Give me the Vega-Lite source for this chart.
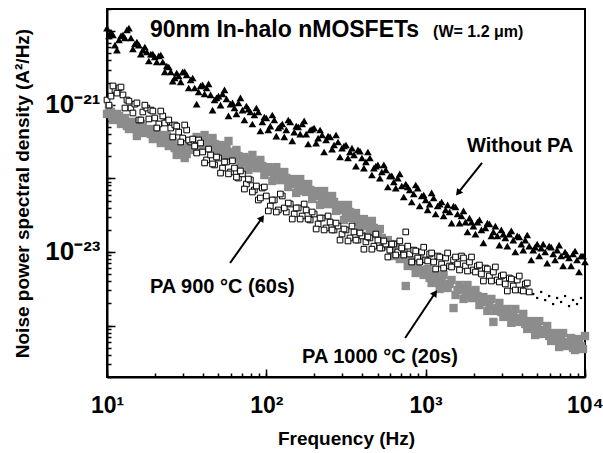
{
  "$schema": "https://vega.github.io/schema/vega-lite/v6.json",
  "width": 478,
  "height": 368,
  "autosize": "none",
  "padding": {"left": 107, "top": 9, "right": 18, "bottom": 76},
  "background": "white",
  "config": {
    "view": {"stroke": "black", "strokeWidth": 2},
    "font": "Liberation Sans",
    "axis": {"grid": false}
  },
  "datasets": {
    "spec": [
      {"s":"A","f":10,"p":1.10e-20},{"s":"A","f":10.59,"p":9.74e-21},{"s":"A","f":11.22,"p":6.48e-21},{"s":"A","f":11.89,"p":7.58e-21},{"s":"A","f":12.59,"p":8.87e-21},{"s":"A","f":13.34,"p":1.04e-20},{"s":"A","f":14.13,"p":8.07e-21},{"s":"A","f":14.96,"p":6.69e-21},{"s":"A","f":15.85,"p":6.48e-21},{"s":"A","f":16.79,"p":5.54e-21},
      {"s":"A","f":17.78,"p":5.21e-21},{"s":"A","f":18.84,"p":4.89e-21},{"s":"A","f":19.95,"p":4.46e-21},{"s":"A","f":21.13,"p":4.60e-21},{"s":"A","f":22.39,"p":3.81e-21},{"s":"A","f":23.71,"p":3.36e-21},{"s":"A","f":25.12,"p":2.79e-21},{"s":"A","f":26.61,"p":2.31e-21},{"s":"A","f":28.18,"p":2.46e-21},{"s":"A","f":29.85,"p":2.79e-21},
      {"s":"A","f":31.62,"p":2.54e-21},{"s":"A","f":33.5,"p":2.17e-21},{"s":"A","f":35.48,"p":1.69e-21},{"s":"A","f":37.58,"p":1.49e-21},{"s":"A","f":39.81,"p":1.86e-21},{"s":"A","f":42.17,"p":1.69e-21},{"s":"A","f":44.67,"p":1.36e-21},{"s":"A","f":47.32,"p":1.16e-21},{"s":"A","f":50.12,"p":1.31e-21},{"s":"A","f":53.09,"p":1.40e-21},
      {"s":"A","f":56.23,"p":1.20e-21},{"s":"A","f":59.57,"p":1.02e-21},{"s":"A","f":63.1,"p":9.03e-22},{"s":"A","f":66.83,"p":1.06e-21},{"s":"A","f":70.79,"p":8.48e-22},{"s":"A","f":74.99,"p":9.62e-22},{"s":"A","f":79.43,"p":7.97e-22},{"s":"A","f":84.14,"p":7.26e-22},{"s":"A","f":89.13,"p":7.97e-22},{"s":"A","f":94.41,"p":5.83e-22},
      {"s":"A","f":100,"p":6.61e-22},{"s":"A","f":105.9,"p":5.14e-22},{"s":"A","f":112.2,"p":6.21e-22},{"s":"A","f":118.9,"p":4.83e-22},{"s":"A","f":125.9,"p":5.48e-22},{"s":"A","f":133.4,"p":4.54e-22},{"s":"A","f":141.3,"p":5.83e-22},{"s":"A","f":149.6,"p":4.26e-22},{"s":"A","f":158.5,"p":4.99e-22},{"s":"A","f":167.9,"p":5.48e-22},
      {"s":"A","f":177.8,"p":4.00e-22},{"s":"A","f":188.4,"p":4.54e-22},{"s":"A","f":199.5,"p":4.83e-22},{"s":"A","f":211.3,"p":3.53e-22},{"s":"A","f":223.9,"p":3.88e-22},{"s":"A","f":237.1,"p":3.32e-22},{"s":"A","f":251.2,"p":3.65e-22},{"s":"A","f":266.1,"p":2.84e-22},{"s":"A","f":281.8,"p":3.12e-22},{"s":"A","f":298.5,"p":2.58e-22},
      {"s":"A","f":316.2,"p":2.84e-22},{"s":"A","f":335,"p":2.28e-22},{"s":"A","f":354.8,"p":2.08e-22},{"s":"A","f":375.8,"p":2.43e-22},{"s":"A","f":398.1,"p":1.89e-22},{"s":"A","f":421.7,"p":1.67e-22},{"s":"A","f":446.7,"p":1.89e-22},{"s":"A","f":473.2,"p":1.38e-22},{"s":"A","f":501.2,"p":1.52e-22},{"s":"A","f":530.9,"p":1.22e-22},
      {"s":"A","f":562.3,"p":1.30e-22},{"s":"A","f":595.7,"p":1.08e-22},{"s":"A","f":631,"p":8.92e-23},{"s":"A","f":668.3,"p":1.01e-22},{"s":"A","f":707.9,"p":7.87e-23},{"s":"A","f":749.9,"p":8.38e-23},{"s":"A","f":794.3,"p":6.95e-23},{"s":"A","f":841.4,"p":6.13e-23},{"s":"A","f":891.3,"p":7.39e-23},{"s":"A","f":944.1,"p":5.76e-23},
      {"s":"A","f":1000,"p":5.08e-23},{"s":"A","f":1059,"p":4.48e-23},{"s":"A","f":1122,"p":5.41e-23},{"s":"A","f":1189,"p":4.21e-23},{"s":"A","f":1259,"p":4.77e-23},{"s":"A","f":1334,"p":3.72e-23},{"s":"A","f":1413,"p":3.49e-23},{"s":"A","f":1496,"p":4.21e-23},{"s":"A","f":1585,"p":3.28e-23},{"s":"A","f":1679,"p":3.08e-23},
      {"s":"A","f":1778,"p":2.55e-23},{"s":"A","f":1884,"p":2.89e-23},{"s":"A","f":1995,"p":2.25e-23},{"s":"A","f":2113,"p":2.55e-23},{"s":"A","f":2239,"p":1.99e-23},{"s":"A","f":2371,"p":2.12e-23},{"s":"A","f":2512,"p":2.40e-23},{"s":"A","f":2661,"p":1.87e-23},{"s":"A","f":2818,"p":1.65e-23},{"s":"A","f":2985,"p":1.99e-23},
      {"s":"A","f":3162,"p":1.55e-23},{"s":"A","f":3350,"p":1.75e-23},{"s":"A","f":3548,"p":1.45e-23},{"s":"A","f":3758,"p":1.65e-23},{"s":"A","f":3981,"p":1.28e-23},{"s":"A","f":4217,"p":1.45e-23},{"s":"A","f":4467,"p":1.20e-23},{"s":"A","f":4732,"p":1.06e-23},{"s":"A","f":5012,"p":1.28e-23},{"s":"A","f":5309,"p":1.13e-23},
      {"s":"A","f":5623,"p":9.99e-24},{"s":"A","f":5957,"p":1.20e-23},{"s":"A","f":6310,"p":9.38e-24},{"s":"A","f":6683,"p":1.06e-23},{"s":"A","f":7079,"p":8.81e-24},{"s":"A","f":7499,"p":9.99e-24},{"s":"A","f":7943,"p":8.28e-24},{"s":"A","f":8414,"p":9.38e-24},{"s":"A","f":8913,"p":7.78e-24},{"s":"A","f":9441,"p":8.81e-24},
      {"s":"A","f":10000,"p":7.30e-24},

      {"s":"A","f":10.29,"p":8.60e-21},{"s":"A","f":10.90,"p":8.87e-21},{"s":"A","f":11.55,"p":5.54e-21},{"s":"A","f":12.24,"p":8.60e-21},{"s":"A","f":12.96,"p":8.07e-21},{"s":"A","f":13.73,"p":1.10e-20},{"s":"A","f":14.54,"p":5.72e-21},{"s":"A","f":15.40,"p":7.12e-21},{"s":"A","f":16.31,"p":4.89e-21},{"s":"A","f":17.28,"p":6.09e-21},
      {"s":"A","f":18.30,"p":3.93e-21},{"s":"A","f":19.39,"p":4.89e-21},{"s":"A","f":20.54,"p":3.81e-21},{"s":"A","f":21.75,"p":4.74e-21},{"s":"A","f":23.04,"p":2.79e-21},{"s":"A","f":24.41,"p":3.26e-21},{"s":"A","f":25.85,"p":2.10e-21},{"s":"A","f":27.39,"p":2.70e-21},{"s":"A","f":29.01,"p":2.04e-21},{"s":"A","f":30.73,"p":2.79e-21},
      {"s":"A","f":32.55,"p":1.69e-21},{"s":"A","f":34.48,"p":2.31e-21},{"s":"A","f":36.52,"p":1.02e-21},{"s":"A","f":38.68,"p":1.80e-21},{"s":"A","f":40.97,"p":1.40e-21},{"s":"A","f":43.40,"p":1.92e-21},{"s":"A","f":45.97,"p":8.48e-22},{"s":"A","f":48.70,"p":1.24e-21},{"s":"A","f":51.58,"p":9.88e-22},{"s":"A","f":54.64,"p":1.59e-21},
      {"s":"A","f":57.88,"p":7.04e-22},{"s":"A","f":61.31,"p":1.06e-21},{"s":"A","f":64.94,"p":7.50e-22},{"s":"A","f":68.79,"p":1.24e-21},{"s":"A","f":72.86,"p":6.21e-22},{"s":"A","f":77.18,"p":8.75e-22},{"s":"A","f":81.75,"p":5.48e-22},{"s":"A","f":86.60,"p":9.03e-22},{"s":"A","f":91.73,"p":4.40e-22},{"s":"A","f":97.16,"p":6.82e-22},
      {"s":"A","f":102.9,"p":4.54e-22},{"s":"A","f":109.0,"p":7.26e-22},{"s":"A","f":115.5,"p":3.76e-22},{"s":"A","f":122.4,"p":5.14e-22},{"s":"A","f":129.6,"p":3.65e-22},{"s":"A","f":137.3,"p":6.21e-22},{"s":"A","f":145.4,"p":3.22e-22},{"s":"A","f":154.0,"p":5.14e-22},{"s":"A","f":163.1,"p":4.00e-22},{"s":"A","f":172.8,"p":6.02e-22},
      {"s":"A","f":183.0,"p":2.93e-22},{"s":"A","f":193.9,"p":4.68e-22},{"s":"A","f":205.4,"p":3.02e-22},{"s":"A","f":217.5,"p":4.54e-22},{"s":"A","f":230.4,"p":2.28e-22},{"s":"A","f":244.1,"p":3.76e-22},{"s":"A","f":258.5,"p":2.50e-22},{"s":"A","f":273.9,"p":3.88e-22},{"s":"A","f":290.1,"p":1.95e-22},{"s":"A","f":307.3,"p":2.75e-22},
      {"s":"A","f":325.5,"p":1.89e-22},{"s":"A","f":344.8,"p":2.58e-22},{"s":"A","f":365.2,"p":1.47e-22},{"s":"A","f":386.8,"p":2.35e-22},{"s":"A","f":409.7,"p":1.38e-22},{"s":"A","f":434.0,"p":2.28e-22},{"s":"A","f":459.7,"p":1.11e-22},{"s":"A","f":486.9,"p":1.47e-22},{"s":"A","f":515.8,"p":1.01e-22},{"s":"A","f":546.4,"p":1.52e-22},
      {"s":"A","f":578.8,"p":7.63e-23},{"s":"A","f":613.1,"p":1.08e-22},{"s":"A","f":649.4,"p":7.39e-23},{"s":"A","f":687.9,"p":1.15e-22},{"s":"A","f":728.6,"p":5.58e-23},{"s":"A","f":771.8,"p":7.63e-23},{"s":"A","f":817.5,"p":4.77e-23},{"s":"A","f":865.9,"p":8.12e-23},{"s":"A","f":917.3,"p":4.21e-23},{"s":"A","f":971.6,"p":5.94e-23},
      {"s":"A","f":1029,"p":3.72e-23},{"s":"A","f":1090,"p":6.33e-23},{"s":"A","f":1155,"p":3.28e-23},{"s":"A","f":1224,"p":4.48e-23},{"s":"A","f":1296,"p":3.08e-23},{"s":"A","f":1373,"p":4.35e-23},{"s":"A","f":1454,"p":2.47e-23},{"s":"A","f":1540,"p":4.08e-23},{"s":"A","f":1631,"p":2.47e-23},{"s":"A","f":1728,"p":3.61e-23},
      {"s":"A","f":1830,"p":1.87e-23},{"s":"A","f":1939,"p":2.55e-23},{"s":"A","f":2054,"p":1.75e-23},{"s":"A","f":2175,"p":2.72e-23},{"s":"A","f":2304,"p":1.33e-23},{"s":"A","f":2441,"p":2.47e-23},{"s":"A","f":2585,"p":1.65e-23},{"s":"A","f":2739,"p":2.25e-23},{"s":"A","f":2901,"p":1.24e-23},{"s":"A","f":3073,"p":1.75e-23},
      {"s":"A","f":3255,"p":1.20e-23},{"s":"A","f":3448,"p":1.93e-23},{"s":"A","f":3652,"p":9.99e-24},{"s":"A","f":3868,"p":1.60e-23},{"s":"A","f":4097,"p":1.06e-23},{"s":"A","f":4340,"p":1.70e-23},{"s":"A","f":4597,"p":7.78e-24},{"s":"A","f":4869,"p":1.16e-23},{"s":"A","f":5158,"p":8.81e-24},{"s":"A","f":5464,"p":1.28e-23},
      {"s":"A","f":5788,"p":7.07e-24},{"s":"A","f":6131,"p":1.16e-23},{"s":"A","f":6494,"p":7.78e-24},{"s":"A","f":6879,"p":1.24e-23},{"s":"A","f":7286,"p":6.45e-24},{"s":"A","f":7718,"p":9.09e-24},{"s":"A","f":8175,"p":6.45e-24},{"s":"A","f":8659,"p":1.03e-23},{"s":"A","f":9173,"p":5.34e-24},{"s":"A","f":9716,"p":8.81e-24},

      {"s":"B","f":10,"p":1.16e-21},{"s":"B","f":10.59,"p":1.31e-21},{"s":"B","f":11.22,"p":1.59e-21},{"s":"B","f":11.89,"p":1.69e-21},{"s":"B","f":12.59,"p":1.36e-21},{"s":"B","f":13.34,"p":1.16e-21},{"s":"B","f":14.13,"p":9.03e-22},{"s":"B","f":14.96,"p":1.02e-21},{"s":"B","f":15.85,"p":6.21e-22},{"s":"B","f":16.79,"p":7.97e-22},
      {"s":"B","f":17.78,"p":9.03e-22},{"s":"B","f":18.84,"p":8.48e-22},{"s":"B","f":19.95,"p":6.61e-22},{"s":"B","f":21.13,"p":5.48e-22},{"s":"B","f":22.39,"p":7.04e-22},{"s":"B","f":23.71,"p":5.83e-22},{"s":"B","f":25.12,"p":4.83e-22},{"s":"B","f":26.61,"p":5.31e-22},{"s":"B","f":28.18,"p":4.26e-22},{"s":"B","f":29.85,"p":3.53e-22},
      {"s":"B","f":31.62,"p":4.54e-22},{"s":"B","f":33.5,"p":3.12e-22},{"s":"B","f":35.48,"p":2.75e-22},{"s":"B","f":37.58,"p":3.32e-22},{"s":"B","f":39.81,"p":2.28e-22},{"s":"B","f":42.17,"p":1.78e-22},{"s":"B","f":44.67,"p":2.08e-22},{"s":"B","f":47.32,"p":1.52e-22},{"s":"B","f":50.12,"p":1.89e-22},{"s":"B","f":53.09,"p":1.38e-22},
      {"s":"B","f":56.23,"p":1.67e-22},{"s":"B","f":59.57,"p":1.22e-22},{"s":"B","f":63.1,"p":1.38e-22},{"s":"B","f":66.83,"p":1.01e-22},{"s":"B","f":70.79,"p":1.15e-22},{"s":"B","f":74.99,"p":8.38e-23},{"s":"B","f":79.43,"p":9.50e-23},{"s":"B","f":84.14,"p":6.95e-23},{"s":"B","f":89.13,"p":5.08e-23},{"s":"B","f":94.41,"p":7.39e-23},
      {"s":"B","f":100,"p":5.76e-23},{"s":"B","f":105.9,"p":4.21e-23},{"s":"B","f":112.2,"p":5.08e-23},{"s":"B","f":118.9,"p":3.72e-23},{"s":"B","f":125.9,"p":5.76e-23},{"s":"B","f":133.4,"p":3.49e-23},{"s":"B","f":141.3,"p":4.48e-23},{"s":"B","f":149.6,"p":3.28e-23},{"s":"B","f":158.5,"p":3.96e-23},{"s":"B","f":167.9,"p":3.08e-23},
      {"s":"B","f":177.8,"p":3.72e-23},{"s":"B","f":188.4,"p":2.72e-23},{"s":"B","f":199.5,"p":3.28e-23},{"s":"B","f":211.3,"p":2.40e-23},{"s":"B","f":223.9,"p":2.89e-23},{"s":"B","f":237.1,"p":2.12e-23},{"s":"B","f":251.2,"p":2.55e-23},{"s":"B","f":266.1,"p":1.99e-23},{"s":"B","f":281.8,"p":2.25e-23},{"s":"B","f":298.5,"p":1.75e-23},
      {"s":"B","f":316.2,"p":1.99e-23},{"s":"B","f":335,"p":1.55e-23},{"s":"B","f":354.8,"p":1.87e-23},{"s":"B","f":375.8,"p":1.45e-23},{"s":"B","f":398.1,"p":1.65e-23},{"s":"B","f":421.7,"p":1.37e-23},{"s":"B","f":446.7,"p":1.55e-23},{"s":"B","f":473.2,"p":1.20e-23},{"s":"B","f":501.2,"p":1.45e-23},{"s":"B","f":530.9,"p":1.13e-23},
      {"s":"B","f":562.3,"p":1.28e-23},{"s":"B","f":595.7,"p":1.06e-23},{"s":"B","f":631,"p":1.28e-23},{"s":"B","f":668.3,"p":9.99e-24},{"s":"B","f":707.9,"p":1.13e-23},{"s":"B","f":749.9,"p":1.87e-23},{"s":"B","f":794.3,"p":9.38e-24},{"s":"B","f":841.4,"p":1.06e-23},{"s":"B","f":891.3,"p":8.28e-24},{"s":"B","f":944.1,"p":9.99e-24},
      {"s":"B","f":1000,"p":7.78e-24},{"s":"B","f":1059,"p":9.38e-24},{"s":"B","f":1122,"p":7.30e-24},{"s":"B","f":1189,"p":8.81e-24},{"s":"B","f":1259,"p":6.86e-24},{"s":"B","f":1334,"p":8.28e-24},{"s":"B","f":1413,"p":6.45e-24},{"s":"B","f":1496,"p":7.78e-24},{"s":"B","f":1585,"p":6.86e-24},{"s":"B","f":1679,"p":8.81e-24},
      {"s":"B","f":1778,"p":6.45e-24},{"s":"B","f":1884,"p":7.30e-24},{"s":"B","f":1995,"p":5.69e-24},{"s":"B","f":2113,"p":6.45e-24},{"s":"B","f":2239,"p":5.02e-24},{"s":"B","f":2371,"p":6.05e-24},{"s":"B","f":2512,"p":4.71e-24},{"s":"B","f":2661,"p":5.34e-24},{"s":"B","f":2818,"p":4.16e-24},{"s":"B","f":2985,"p":4.71e-24},
      {"s":"B","f":3162,"p":3.67e-24},{"s":"B","f":3350,"p":4.43e-24},{"s":"B","f":3548,"p":3.45e-24},{"s":"B","f":3758,"p":4.16e-24},{"s":"B","f":3981,"p":3.04e-24},{"s":"B","f":4217,"p":3.67e-24},{"s":"B","f":4467,"p":2.86e-24},

      {"s":"B","f":10.29,"p":9.88e-22},{"s":"B","f":10.90,"p":1.80e-21},{"s":"B","f":11.55,"p":1.44e-21},{"s":"B","f":12.24,"p":1.74e-21},{"s":"B","f":12.96,"p":9.03e-22},{"s":"B","f":13.73,"p":1.12e-21},{"s":"B","f":14.54,"p":7.72e-22},{"s":"B","f":15.40,"p":1.06e-21},{"s":"B","f":16.31,"p":6.21e-22},{"s":"B","f":17.28,"p":9.88e-22},
      {"s":"B","f":18.30,"p":6.41e-22},{"s":"B","f":19.39,"p":8.22e-22},{"s":"B","f":20.54,"p":4.83e-22},{"s":"B","f":21.75,"p":8.22e-22},{"s":"B","f":23.04,"p":5.65e-22},{"s":"B","f":24.41,"p":6.21e-22},{"s":"B","f":25.85,"p":3.65e-22},{"s":"B","f":27.39,"p":5.14e-22},{"s":"B","f":29.01,"p":3.12e-22},{"s":"B","f":30.73,"p":5.31e-22},
      {"s":"B","f":32.55,"p":3.32e-22},{"s":"B","f":34.48,"p":3.42e-22},{"s":"B","f":36.52,"p":2.21e-22},{"s":"B","f":38.68,"p":3.02e-22},{"s":"B","f":40.97,"p":1.62e-22},{"s":"B","f":43.40,"p":2.50e-22},{"s":"B","f":45.97,"p":1.57e-22},{"s":"B","f":48.70,"p":1.95e-22},{"s":"B","f":51.58,"p":1.18e-22},{"s":"B","f":54.64,"p":1.67e-22},
      {"s":"B","f":57.88,"p":1.15e-22},{"s":"B","f":61.31,"p":1.73e-22},{"s":"B","f":64.94,"p":1.04e-22},{"s":"B","f":68.79,"p":1.26e-22},{"s":"B","f":72.86,"p":7.16e-23},{"s":"B","f":77.18,"p":9.79e-23},{"s":"B","f":81.75,"p":6.53e-23},{"s":"B","f":86.60,"p":7.87e-23},{"s":"B","f":91.73,"p":5.41e-23},{"s":"B","f":97.16,"p":7.63e-23},
      {"s":"B","f":102.9,"p":3.61e-23},{"s":"B","f":109.0,"p":5.08e-23},{"s":"B","f":115.5,"p":3.49e-23},{"s":"B","f":122.4,"p":6.13e-23},{"s":"B","f":129.6,"p":3.96e-23},{"s":"B","f":137.3,"p":4.62e-23},{"s":"B","f":145.4,"p":2.80e-23},{"s":"B","f":154.0,"p":3.96e-23},{"s":"B","f":163.1,"p":2.80e-23},{"s":"B","f":172.8,"p":4.48e-23},
      {"s":"B","f":183.0,"p":2.80e-23},{"s":"B","f":193.9,"p":3.49e-23},{"s":"B","f":205.4,"p":2.05e-23},{"s":"B","f":217.5,"p":2.89e-23},{"s":"B","f":230.4,"p":1.99e-23},{"s":"B","f":244.1,"p":3.08e-23},{"s":"B","f":258.5,"p":1.99e-23},{"s":"B","f":273.9,"p":2.47e-23},{"s":"B","f":290.1,"p":1.45e-23},{"s":"B","f":307.3,"p":2.05e-23},
      {"s":"B","f":325.5,"p":1.41e-23},{"s":"B","f":344.8,"p":2.25e-23},{"s":"B","f":365.2,"p":1.45e-23},{"s":"B","f":386.8,"p":1.81e-23},{"s":"B","f":409.7,"p":1.09e-23},{"s":"B","f":434.0,"p":1.60e-23},{"s":"B","f":459.7,"p":1.09e-23},{"s":"B","f":486.9,"p":1.75e-23},{"s":"B","f":515.8,"p":1.13e-23},{"s":"B","f":546.4,"p":1.41e-23},
      {"s":"B","f":578.8,"p":8.54e-24},{"s":"B","f":613.1,"p":1.28e-23},{"s":"B","f":649.4,"p":9.09e-24},{"s":"B","f":687.9,"p":1.41e-23},{"s":"B","f":728.6,"p":9.09e-24},{"s":"B","f":771.8,"p":1.20e-23},{"s":"B","f":817.5,"p":7.30e-24},{"s":"B","f":865.9,"p":1.03e-23},{"s":"B","f":917.3,"p":7.30e-24},{"s":"B","f":971.6,"p":1.16e-23},
      {"s":"B","f":1029,"p":7.54e-24},{"s":"B","f":1090,"p":9.68e-24},{"s":"B","f":1155,"p":5.87e-24},{"s":"B","f":1224,"p":8.54e-24},{"s":"B","f":1296,"p":6.05e-24},{"s":"B","f":1373,"p":9.68e-24},{"s":"B","f":1454,"p":6.25e-24},{"s":"B","f":1540,"p":8.54e-24},{"s":"B","f":1631,"p":5.69e-24},{"s":"B","f":1728,"p":8.28e-24},
      {"s":"B","f":1830,"p":5.51e-24},{"s":"B","f":1939,"p":8.54e-24},{"s":"B","f":2054,"p":5.34e-24},{"s":"B","f":2175,"p":6.65e-24},{"s":"B","f":2304,"p":4.03e-24},{"s":"B","f":2441,"p":5.87e-24},{"s":"B","f":2585,"p":4.03e-24},{"s":"B","f":2739,"p":6.25e-24},{"s":"B","f":2901,"p":3.91e-24},{"s":"B","f":3073,"p":4.87e-24},
      {"s":"B","f":3255,"p":2.95e-24},{"s":"B","f":3448,"p":4.29e-24},{"s":"B","f":3652,"p":3.04e-24},{"s":"B","f":3868,"p":4.71e-24},{"s":"B","f":4097,"p":2.95e-24},{"s":"B","f":4340,"p":3.79e-24},

      {"s":"D","f":4732,"p":2.68e-24},{"s":"D","f":5012,"p":2.37e-24},{"s":"D","f":5309,"p":2.86e-24},{"s":"D","f":5623,"p":2.22e-24},{"s":"D","f":5957,"p":2.52e-24},{"s":"D","f":6310,"p":1.96e-24},{"s":"D","f":6683,"p":2.37e-24},{"s":"D","f":7079,"p":2.09e-24},{"s":"D","f":7499,"p":2.52e-24},{"s":"D","f":7943,"p":1.84e-24},{"s":"D","f":8414,"p":2.22e-24},{"s":"D","f":8913,"p":1.96e-24},{"s":"D","f":9441,"p":2.37e-24},

      {"s":"C","f":10,"p":7.50e-22},{"s":"C","f":10.59,"p":7.97e-22},{"s":"C","f":11.22,"p":6.61e-22},{"s":"C","f":11.89,"p":7.04e-22},{"s":"C","f":12.59,"p":6.21e-22},{"s":"C","f":13.34,"p":5.14e-22},{"s":"C","f":14.13,"p":5.83e-22},{"s":"C","f":14.96,"p":4.83e-22},{"s":"C","f":15.85,"p":4.26e-22},{"s":"C","f":16.79,"p":5.14e-22},
      {"s":"C","f":17.78,"p":4.54e-22},{"s":"C","f":18.84,"p":4.00e-22},{"s":"C","f":19.95,"p":4.26e-22},{"s":"C","f":21.13,"p":3.76e-22},{"s":"C","f":22.39,"p":3.32e-22},{"s":"C","f":23.71,"p":3.76e-22},{"s":"C","f":25.12,"p":2.93e-22},{"s":"C","f":26.61,"p":2.58e-22},{"s":"C","f":28.18,"p":2.28e-22},{"s":"C","f":29.85,"p":2.43e-22},
      {"s":"C","f":31.62,"p":2.14e-22},{"s":"C","f":33.5,"p":2.75e-22},{"s":"C","f":35.48,"p":3.12e-22},{"s":"C","f":37.58,"p":3.32e-22},{"s":"C","f":39.81,"p":2.93e-22},{"s":"C","f":42.17,"p":3.12e-22},{"s":"C","f":44.67,"p":2.75e-22},{"s":"C","f":47.32,"p":2.93e-22},{"s":"C","f":50.12,"p":2.58e-22},{"s":"C","f":53.09,"p":2.43e-22},
      {"s":"C","f":56.23,"p":2.75e-22},{"s":"C","f":59.57,"p":2.28e-22},{"s":"C","f":63.1,"p":1.89e-22},{"s":"C","f":66.83,"p":2.01e-22},{"s":"C","f":70.79,"p":1.67e-22},{"s":"C","f":74.99,"p":1.78e-22},{"s":"C","f":79.43,"p":1.57e-22},{"s":"C","f":84.14,"p":1.67e-22},{"s":"C","f":89.13,"p":1.38e-22},{"s":"C","f":94.41,"p":1.47e-22},
      {"s":"C","f":100,"p":1.22e-22},{"s":"C","f":105.9,"p":1.30e-22},{"s":"C","f":112.2,"p":1.08e-22},{"s":"C","f":118.9,"p":1.15e-22},{"s":"C","f":125.9,"p":9.50e-23},{"s":"C","f":133.4,"p":1.01e-22},{"s":"C","f":141.3,"p":8.38e-23},{"s":"C","f":149.6,"p":8.92e-23},{"s":"C","f":158.5,"p":7.39e-23},{"s":"C","f":167.9,"p":7.87e-23},
      {"s":"C","f":177.8,"p":6.53e-23},{"s":"C","f":188.4,"p":6.95e-23},{"s":"C","f":199.5,"p":5.76e-23},{"s":"C","f":211.3,"p":6.13e-23},{"s":"C","f":223.9,"p":5.08e-23},{"s":"C","f":237.1,"p":5.41e-23},{"s":"C","f":251.2,"p":4.48e-23},{"s":"C","f":266.1,"p":4.77e-23},{"s":"C","f":281.8,"p":3.96e-23},{"s":"C","f":298.5,"p":3.72e-23},
      {"s":"C","f":316.2,"p":3.28e-23},{"s":"C","f":335,"p":3.49e-23},{"s":"C","f":354.8,"p":2.89e-23},{"s":"C","f":375.8,"p":2.55e-23},{"s":"C","f":398.1,"p":2.72e-23},{"s":"C","f":421.7,"p":2.25e-23},{"s":"C","f":446.7,"p":1.99e-23},{"s":"C","f":473.2,"p":2.12e-23},{"s":"C","f":501.2,"p":1.75e-23},{"s":"C","f":530.9,"p":1.55e-23},
      {"s":"C","f":562.3,"p":1.37e-23},{"s":"C","f":595.7,"p":1.20e-23},{"s":"C","f":631,"p":1.06e-23},{"s":"C","f":668.3,"p":9.38e-24},{"s":"C","f":707.9,"p":8.28e-24},{"s":"C","f":749.9,"p":3.45e-24},{"s":"C","f":794.3,"p":7.30e-24},{"s":"C","f":841.4,"p":6.45e-24},{"s":"C","f":891.3,"p":6.86e-24},{"s":"C","f":944.1,"p":5.69e-24},
      {"s":"C","f":1000,"p":5.02e-24},{"s":"C","f":1059,"p":4.43e-24},{"s":"C","f":1122,"p":4.71e-24},{"s":"C","f":1189,"p":3.91e-24},{"s":"C","f":1259,"p":4.16e-24},{"s":"C","f":1334,"p":3.45e-24},{"s":"C","f":1413,"p":3.67e-24},{"s":"C","f":1496,"p":1.73e-24},{"s":"C","f":1585,"p":3.04e-24},{"s":"C","f":1679,"p":3.24e-24},
      {"s":"C","f":1778,"p":2.68e-24},{"s":"C","f":1884,"p":2.86e-24},{"s":"C","f":1995,"p":2.37e-24},{"s":"C","f":2113,"p":2.52e-24},{"s":"C","f":2239,"p":2.09e-24},{"s":"C","f":2371,"p":2.22e-24},{"s":"C","f":2512,"p":1.84e-24},{"s":"C","f":2661,"p":1.12e-24},{"s":"C","f":2818,"p":1.73e-24},{"s":"C","f":2985,"p":1.53e-24},
      {"s":"C","f":3162,"p":1.63e-24},{"s":"C","f":3350,"p":1.35e-24},{"s":"C","f":3548,"p":1.44e-24},{"s":"C","f":3758,"p":1.19e-24},{"s":"C","f":3981,"p":1.27e-24},{"s":"C","f":4217,"p":1.05e-24},{"s":"C","f":4467,"p":1.12e-24},{"s":"C","f":4732,"p":9.26e-25},{"s":"C","f":5012,"p":9.86e-25},{"s":"C","f":5309,"p":8.17e-25},
      {"s":"C","f":5623,"p":8.70e-25},{"s":"C","f":5957,"p":7.21e-25},{"s":"C","f":6310,"p":7.68e-25},{"s":"C","f":6683,"p":6.36e-25},{"s":"C","f":7079,"p":6.77e-25},{"s":"C","f":7499,"p":5.61e-25},{"s":"C","f":7943,"p":5.98e-25},{"s":"C","f":8414,"p":4.95e-25},{"s":"C","f":8913,"p":6.36e-25},{"s":"C","f":9441,"p":5.27e-25},
      {"s":"C","f":10000,"p":7.21e-25},

      {"s":"C","f":10.29,"p":9.03e-22},{"s":"C","f":10.90,"p":6.21e-22},{"s":"C","f":11.55,"p":7.50e-22},{"s":"C","f":12.24,"p":5.48e-22},{"s":"C","f":12.96,"p":6.61e-22},{"s":"C","f":13.73,"p":4.68e-22},{"s":"C","f":14.54,"p":5.83e-22},{"s":"C","f":15.40,"p":3.76e-22},{"s":"C","f":16.31,"p":5.48e-22},{"s":"C","f":17.28,"p":4.13e-22},
      {"s":"C","f":18.30,"p":4.68e-22},{"s":"C","f":19.39,"p":3.42e-22},{"s":"C","f":20.54,"p":4.68e-22},{"s":"C","f":21.75,"p":3.02e-22},{"s":"C","f":23.04,"p":3.88e-22},{"s":"C","f":24.41,"p":2.75e-22},{"s":"C","f":25.85,"p":3.22e-22},{"s":"C","f":27.39,"p":2.08e-22},{"s":"C","f":29.01,"p":2.58e-22},{"s":"C","f":30.73,"p":1.89e-22},
      {"s":"C","f":32.55,"p":3.02e-22},{"s":"C","f":34.48,"p":2.43e-22},{"s":"C","f":36.52,"p":3.65e-22},{"s":"C","f":38.68,"p":2.43e-22},{"s":"C","f":40.97,"p":3.88e-22},{"s":"C","f":43.40,"p":2.67e-22},{"s":"C","f":45.97,"p":3.53e-22},{"s":"C","f":48.70,"p":2.28e-22},{"s":"C","f":51.58,"p":2.84e-22},{"s":"C","f":54.64,"p":2.01e-22},
      {"s":"C","f":57.88,"p":3.22e-22},{"s":"C","f":61.31,"p":1.89e-22},{"s":"C","f":64.94,"p":2.43e-22},{"s":"C","f":68.79,"p":1.52e-22},{"s":"C","f":72.86,"p":1.95e-22},{"s":"C","f":77.18,"p":1.30e-22},{"s":"C","f":81.75,"p":2.08e-22},{"s":"C","f":86.60,"p":1.38e-22},{"s":"C","f":91.73,"p":1.78e-22},{"s":"C","f":97.16,"p":1.11e-22},
      {"s":"C","f":102.9,"p":1.42e-22},{"s":"C","f":109.0,"p":9.21e-23},{"s":"C","f":115.5,"p":1.42e-22},{"s":"C","f":122.4,"p":9.50e-23},{"s":"C","f":129.6,"p":1.22e-22},{"s":"C","f":137.3,"p":7.63e-23},{"s":"C","f":145.4,"p":9.79e-23},{"s":"C","f":154.0,"p":6.33e-23},{"s":"C","f":163.1,"p":9.79e-23},{"s":"C","f":172.8,"p":6.73e-23},
      {"s":"C","f":183.0,"p":8.38e-23},{"s":"C","f":193.9,"p":5.24e-23},{"s":"C","f":205.4,"p":6.73e-23},{"s":"C","f":217.5,"p":4.35e-23},{"s":"C","f":230.4,"p":6.73e-23},{"s":"C","f":244.1,"p":4.48e-23},{"s":"C","f":258.5,"p":5.76e-23},{"s":"C","f":273.9,"p":3.61e-23},{"s":"C","f":290.1,"p":4.35e-23},{"s":"C","f":307.3,"p":2.72e-23},
      {"s":"C","f":325.5,"p":4.35e-23},{"s":"C","f":344.8,"p":2.89e-23},{"s":"C","f":365.2,"p":3.38e-23},{"s":"C","f":386.8,"p":2.18e-23},{"s":"C","f":409.7,"p":2.80e-23},{"s":"C","f":434.0,"p":1.65e-23},{"s":"C","f":459.7,"p":2.64e-23},{"s":"C","f":486.9,"p":1.75e-23},{"s":"C","f":515.8,"p":2.05e-23},{"s":"C","f":546.4,"p":1.20e-23},
      {"s":"C","f":578.8,"p":1.45e-23},{"s":"C","f":613.1,"p":8.81e-24},{"s":"C","f":649.4,"p":1.28e-23},{"s":"C","f":687.9,"p":8.02e-24},{"s":"C","f":728.6,"p":9.68e-24},{"s":"C","f":771.8,"p":6.45e-24},{"s":"C","f":817.5,"p":7.78e-24},{"s":"C","f":865.9,"p":5.18e-24},{"s":"C","f":917.3,"p":8.02e-24},{"s":"C","f":971.6,"p":4.87e-24},
      {"s":"C","f":1029,"p":5.87e-24},{"s":"C","f":1090,"p":3.79e-24},{"s":"C","f":1155,"p":4.87e-24},{"s":"C","f":1224,"p":3.14e-24},{"s":"C","f":1296,"p":4.87e-24},{"s":"C","f":1373,"p":3.24e-24},{"s":"C","f":1454,"p":4.16e-24},{"s":"C","f":1540,"p":2.60e-24},{"s":"C","f":1631,"p":3.56e-24},{"s":"C","f":1728,"p":2.30e-24},
      {"s":"C","f":1830,"p":3.56e-24},{"s":"C","f":1939,"p":2.37e-24},{"s":"C","f":2054,"p":3.04e-24},{"s":"C","f":2175,"p":1.90e-24},{"s":"C","f":2304,"p":2.44e-24},{"s":"C","f":2441,"p":1.58e-24},{"s":"C","f":2585,"p":2.30e-24},{"s":"C","f":2739,"p":1.58e-24},{"s":"C","f":2901,"p":2.03e-24},{"s":"C","f":3073,"p":1.31e-24},
      {"s":"C","f":3255,"p":1.68e-24},{"s":"C","f":3448,"p":1.09e-24},{"s":"C","f":3652,"p":1.68e-24},{"s":"C","f":3868,"p":1.12e-24},{"s":"C","f":4097,"p":1.44e-24},{"s":"C","f":4340,"p":8.98e-25},{"s":"C","f":4597,"p":1.15e-24},{"s":"C","f":4869,"p":7.44e-25},{"s":"C","f":5158,"p":1.15e-24},{"s":"C","f":5464,"p":7.68e-25},
      {"s":"C","f":5788,"p":9.86e-25},{"s":"C","f":6131,"p":6.17e-25},{"s":"C","f":6494,"p":7.92e-25},{"s":"C","f":6879,"p":5.11e-25},{"s":"C","f":7286,"p":7.92e-25},{"s":"C","f":7718,"p":5.27e-25},{"s":"C","f":8175,"p":6.77e-25},{"s":"C","f":8659,"p":4.65e-25},{"s":"C","f":9173,"p":6.56e-25},{"s":"C","f":9716,"p":4.80e-25}
    ],
    "notes": [
      {"t":"90nm In-halo nMOSFETs","k":"title","f":18.6,"p":8.33e-21},
      {"t":"(W= 1.2 μm)","k":"sub","f":1113,"p":8.33e-21},
      {"t":"Without PA","k":"note","f":1820,"p":2.28e-22},
      {"t":"PA 900 °C (60s)","k":"note","f":18.6,"p":2.77e-24},
      {"t":"PA 1000 °C (20s)","k":"note","f":167.5,"p":3.10e-25}
    ],
    "arrows": [
      {"a":"w","f":1597,"p":6.33e-23,"f0":2259,"p0":1.62e-22},
      {"a":"n","f":94.0,"p":2.89e-23,"f0":59.2,"p0":7.08e-24},
      {"a":"t","f":1146,"p":2.77e-24,"f0":743,"p0":6.77e-25}
    ]
  },
  "resolve": {"axis": {"x": "independent", "y": "independent"}},
  "layer": [
    {
      "encoding": {
        "x": {
          "field": "f", "type": "quantitative",
          "scale": {"type": "log", "domain": [10, 10000], "nice": false},
          "axis": {
            "title": "Frequency (Hz)",
            "orient": "bottom",
            "values": [10,20,30,40,50,60,70,80,90,100,200,300,400,500,600,700,800,900,1000,2000,3000,4000,5000,6000,7000,8000,9000,10000],
            "labelExpr": "datum.value == 10 ? '10¹' : datum.value == 100 ? '10²' : datum.value == 1000 ? '10³' : datum.value == 10000 ? '10⁴' : ''",
            "tickSize": -4,
            "tickColor": "black", "tickWidth": 1.5,
            "domainColor": "black", "domainWidth": 2,
            "labelFont": "Liberation Sans", "labelFontWeight": "bold", "labelFontSize": 23, "labelColor": "black",
            "labelPadding": 21, "labelFlush": false, "labelOverlap": false,
            "titleFont": "Liberation Sans", "titleFontWeight": "bold", "titleFontSize": 19, "titleColor": "black",
            "titlePadding": 12
          }
        },
        "y": {
          "field": "p", "type": "quantitative",
          "scale": {"type": "log", "domain": [2e-25, 2e-20], "nice": false},
          "axis": {
            "title": "Noise power spectral density (A²/Hz)",
            "orient": "left",
            "values": [2e-25,3e-25,4e-25,5e-25,6e-25,7e-25,8e-25,9e-25,1e-24,2e-24,3e-24,4e-24,5e-24,6e-24,7e-24,8e-24,9e-24,1e-23,2e-23,3e-23,4e-23,5e-23,6e-23,7e-23,8e-23,9e-23,1e-22,2e-22,3e-22,4e-22,5e-22,6e-22,7e-22,8e-22,9e-22,1e-21,2e-21,3e-21,4e-21,5e-21,6e-21,7e-21,8e-21,9e-21,1e-20,2e-20],
            "labelExpr": "datum.value == 1e-21 ? '10⁻²¹' : datum.value == 1e-23 ? '10⁻²³' : ''",
            "tickSize": -4,
            "tickColor": "black", "tickWidth": 1.5,
            "domainColor": "black", "domainWidth": 2,
            "labelFont": "Liberation Sans", "labelFontWeight": "bold", "labelFontSize": 26, "labelColor": "black",
            "labelPadding": 11, "labelOverlap": false, "labelFlush": false,
            "titleFont": "Liberation Sans", "titleFontWeight": "bold", "titleFontSize": 19, "titleColor": "black",
            "titlePadding": 12
          }
        }
      },
      "layer": [
        {
          "data": {"name": "spec"},
          "transform": [{"filter": "datum.s == 'C'"}],
          "mark": {"type": "square", "color": "#8c8c8c", "opacity": 1, "size": 70}
        },
        {
          "data": {"name": "spec"},
          "transform": [{"filter": "datum.s == 'B'"}],
          "mark": {"type": "point", "shape": "square", "filled": false, "fill": "white", "stroke": "black", "strokeWidth": 1, "opacity": 1, "size": 32}
        },
        {
          "data": {"name": "spec"},
          "transform": [{"filter": "datum.s == 'A'"}],
          "mark": {"type": "point", "shape": "triangle-up", "filled": true, "color": "black", "opacity": 1, "size": 60}
        },
        {
          "data": {"name": "spec"},
          "transform": [{"filter": "datum.s == 'D'"}],
          "mark": {"type": "point", "shape": "square", "filled": true, "color": "black", "opacity": 1, "size": 5}
        },
        {
          "data": {"name": "arrows"},
          "mark": {"type": "rule", "color": "black", "strokeWidth": 2},
          "encoding": {
            "x2": {"field": "f0"},
            "y2": {"field": "p0"}
          }
        },
        {
          "data": {"name": "arrows"},
          "transform": [{"filter": "datum.a == 'w'"}],
          "mark": {"type": "point", "shape": "triangle-up", "filled": true, "color": "black", "opacity": 1, "size": 60, "angle": 219}
        },
        {
          "data": {"name": "arrows"},
          "transform": [{"filter": "datum.a == 'n'"}],
          "mark": {"type": "point", "shape": "triangle-up", "filled": true, "color": "black", "opacity": 1, "size": 60, "angle": 35}
        },
        {
          "data": {"name": "arrows"},
          "transform": [{"filter": "datum.a == 't'"}],
          "mark": {"type": "point", "shape": "triangle-up", "filled": true, "color": "black", "opacity": 1, "size": 60, "angle": 34}
        },
        {
          "data": {"name": "notes"},
          "transform": [{"filter": "datum.k == 'title'"}],
          "mark": {"type": "text", "align": "left", "baseline": "alphabetic", "font": "Liberation Sans", "fontWeight": "bold", "color": "black", "fontSize": 23},
          "encoding": {"text": {"field": "t"}}
        },
        {
          "data": {"name": "notes"},
          "transform": [{"filter": "datum.k == 'sub'"}],
          "mark": {"type": "text", "align": "left", "baseline": "alphabetic", "font": "Liberation Sans", "fontWeight": "bold", "color": "black", "fontSize": 16},
          "encoding": {"text": {"field": "t"}}
        },
        {
          "data": {"name": "notes"},
          "transform": [{"filter": "datum.k == 'note'"}],
          "mark": {"type": "text", "align": "left", "baseline": "alphabetic", "font": "Liberation Sans", "fontWeight": "bold", "color": "black", "fontSize": 20},
          "encoding": {"text": {"field": "t"}}
        }
      ]
    },
    {
      "data": {"name": "notes"},
      "mark": {"type": "point", "opacity": 0},
      "encoding": {
        "x": {
          "field": "f", "type": "quantitative",
          "axis": {"orient": "bottom", "values": [10, 100, 1000, 10000], "labels": false, "title": null, "domain": false, "tickSize": -8, "tickColor": "black", "tickWidth": 1.5}
        },
        "y": {
          "field": "p", "type": "quantitative",
          "axis": {"orient": "left", "values": [1e-24, 1e-23, 1e-22, 1e-21, 1e-20], "labels": false, "title": null, "domain": false, "tickSize": -8, "tickColor": "black", "tickWidth": 1.5}
        }
      }
    }
  ]
}
